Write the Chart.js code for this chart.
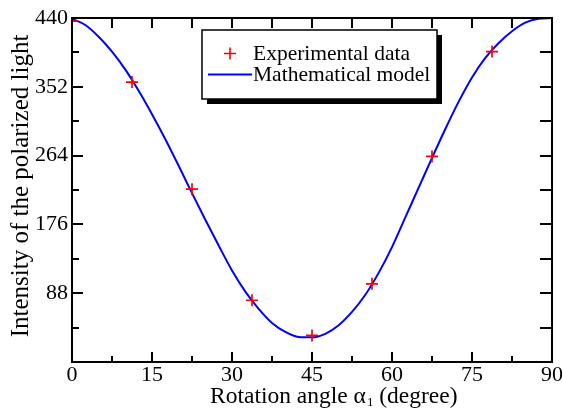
<!DOCTYPE html>
<html><head><meta charset="utf-8">
<script src="https://cdn.jsdelivr.net/npm/chart.js@4.4.1/dist/chart.umd.min.js"></script>
<style>html,body{margin:0;padding:0;background:#fff;overflow:hidden}</style>
</head><body>
<canvas id="c" width="563" height="413" style="display:block;width:563px;height:413px"></canvas>
<script>
// ---- data ----
const expAngles = [0, 11.25, 22.5, 33.75, 45, 56.25, 67.5, 78.75];
const expIntensity = [436, 358, 221, 79, 34, 100, 263, 397];
const modelAngles = [0, 2.5, 5, 7.5, 10, 12.5, 15, 17.5, 20, 22.5, 25, 27.5, 30, 32.5, 35, 37.5, 40, 42.5, 45, 47.5, 50, 52.5, 55, 57.5, 60, 62.5, 65, 67.5, 70, 72.5, 75, 77.5, 80, 82.5, 85, 87.5, 90];
const modelIntensity = [439, 431, 416, 397, 374, 347, 317, 285, 251, 216, 182, 149, 117, 90, 68, 50, 38.5, 32, 31.5, 36, 47, 64, 86, 114, 147, 185, 223, 261, 298, 333, 364, 389, 408, 423, 434, 439, 440];
const xTicks = [0, 15, 30, 45, 60, 75, 90];
const xMinorTicks = [7.5, 22.5, 37.5, 52.5, 67.5, 82.5];
const yTicks = [88, 176, 264, 352, 440];
const yMinorTicks = [44, 132, 220, 308, 396];
const seriesLabels = ['Experimental data', 'Mathematical model'];
const xTitleParts = ['Rotation angle \u03B1', '1', ' (degree)'];
const yTitle = 'Intensity of the polarized light';

const FONT = "'Liberation Serif', 'Times New Roman', serif";
Chart.defaults.font.family = FONT;
Chart.defaults.color = '#000';

const framePlugin = {
  id: 'frame',
  afterDatasetsDraw(chart) {
    const {ctx, chartArea: a, scales: {x, y}} = chart;
    ctx.save();
    ctx.strokeStyle = '#000';
    ctx.lineWidth = 2;
    ctx.lineCap = 'butt';
    ctx.strokeRect(a.left, a.top, a.right - a.left, a.bottom - a.top);
    ctx.beginPath();
    const allX = xTicks.map(v => [v, true]).concat(xMinorTicks.map(v => [v, false]));
    allX.forEach(([v, major]) => {
      const px = Math.round(x.getPixelForValue(v));
      ctx.moveTo(px, a.bottom); ctx.lineTo(px, a.bottom - (major ? 10 : 6));
      ctx.moveTo(px, a.top); ctx.lineTo(px, a.top + 10);
    });
    const allY = yTicks.map(v => [v, true]).concat(yMinorTicks.map(v => [v, false]));
    allY.forEach(([v, major]) => {
      const py = Math.round(y.getPixelForValue(v));
      ctx.moveTo(a.left, py); ctx.lineTo(a.left + (major ? 11 : 7), py);
      ctx.moveTo(a.right, py); ctx.lineTo(a.right - 12, py);
    });
    ctx.stroke();
    ctx.restore();
  },
  afterDraw(chart) {
    const {ctx} = chart;
    const ds = chart.data.datasets;
    ctx.save();
    // axis titles
    ctx.fillStyle = '#000';
    ctx.textBaseline = 'alphabetic';
    ctx.font = "23.5px " + FONT;
    ctx.textAlign = 'left';
    let tx = 210;
    const by = 403;
    ctx.fillText(xTitleParts[0], tx, by);
    tx += ctx.measureText(xTitleParts[0]).width + 1;
    ctx.font = "13px " + FONT;
    ctx.fillText(xTitleParts[1], tx, by + 3);
    tx += ctx.measureText(xTitleParts[1]).width;
    ctx.font = "23.5px " + FONT;
    ctx.fillText(xTitleParts[2], tx, by);
    ctx.save();
    ctx.translate(28, 186);
    ctx.rotate(-Math.PI / 2);
    ctx.textAlign = 'center';
    ctx.font = "25px " + FONT;
    ctx.fillText(yTitle, 0, 0);
    ctx.restore();

    // legend
    const L = 202, T = 30, R = 437, B = 99;
    ctx.fillStyle = '#000';
    ctx.fillRect(L + 5, T + 5, R - L, B - T);
    ctx.fillStyle = '#fff';
    ctx.fillRect(L, T, R - L, B - T);
    ctx.strokeStyle = '#000';
    ctx.lineWidth = 1.5;
    ctx.strokeRect(L, T, R - L, B - T);
    ctx.strokeStyle = ds[0].borderColor;
    ctx.lineWidth = 1.6;
    ctx.beginPath();
    ctx.moveTo(224, 53.5); ctx.lineTo(236, 53.5);
    ctx.moveTo(230, 47.5); ctx.lineTo(230, 59.5);
    ctx.stroke();
    ctx.strokeStyle = ds[1].borderColor;
    ctx.lineWidth = 2;
    ctx.beginPath();
    ctx.moveTo(208, 74.5); ctx.lineTo(252, 74.5);
    ctx.stroke();
    ctx.fillStyle = '#000';
    ctx.font = "21.5px " + FONT;
    ctx.textAlign = 'left';
    ctx.fillText(ds[0].label, 253, 60);
    ctx.fillText(ds[1].label, 253, 81);
    ctx.restore();
  }
};

new Chart(document.getElementById('c'), {
  type: 'scatter',
  data: {
    datasets: [
      {
        label: seriesLabels[0],
        data: expAngles.map((a, i) => ({x: a, y: expIntensity[i]})),
        showLine: false,
        pointStyle: 'cross',
        pointRadius: 6,
        pointHoverRadius: 6,
        borderColor: '#ff0000',
        backgroundColor: '#ff0000',
        borderWidth: 1.7
      },
      {
        label: seriesLabels[1],
        data: modelAngles.map((a, i) => ({x: a, y: modelIntensity[i]})),
        showLine: true,
        pointRadius: 0,
        borderColor: '#0000ff',
        backgroundColor: '#0000ff',
        borderWidth: 2,
        cubicInterpolationMode: 'monotone',
        fill: false
      }
    ]
  },
  options: {
    responsive: false,
    devicePixelRatio: 1,
    animation: false,
    events: [],
    layout: {padding: {left: 0, top: 18, right: 11, bottom: 0}},
    plugins: {legend: {display: false}, tooltip: {enabled: false}},
    scales: {
      x: {
        type: 'linear', position: 'bottom', min: 0, max: 90,
        afterBuildTicks: s => { s.ticks = xTicks.map(v => ({value: v})); },
        afterFit: s => { s.height = 51; },
        grid: {display: false, drawTicks: false},
        border: {display: false},
        ticks: {font: {size: 22, family: FONT}, color: '#000', padding: 0, maxRotation: 0, autoSkip: false},
        title: {display: false}
      },
      y: {
        type: 'linear', position: 'left', min: 0, max: 440,
        afterBuildTicks: s => { s.ticks = yTicks.map(v => ({value: v})); },
        afterFit: s => { s.width = 72; },
        grid: {display: false, drawTicks: false},
        border: {display: false},
        ticks: {font: {size: 22, family: FONT}, color: '#000', padding: 4, autoSkip: false},
        title: {display: false}
      }
    }
  },
  plugins: [framePlugin]
});
</script>
</body></html>
